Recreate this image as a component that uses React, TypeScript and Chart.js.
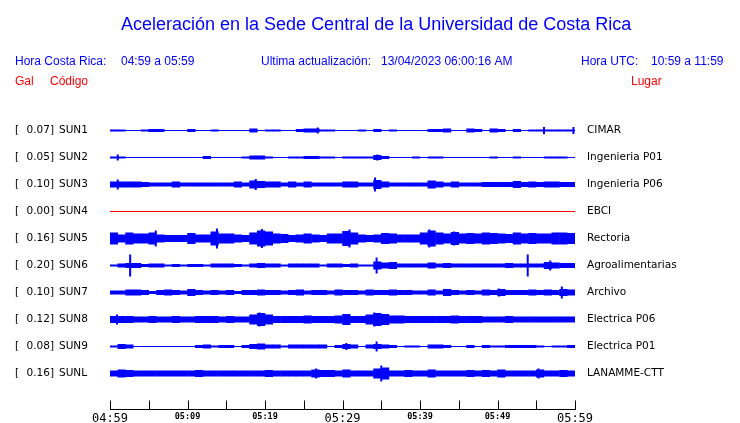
import React, { useEffect, useRef } from 'react';
import { Chart, registerables } from 'chart.js';

Chart.register(...registerables);

// ---------- text ----------
const TITLE = 'Aceleración en la Sede Central de la Universidad de Costa Rica';
const HEADER_BLUE = [
  { text: 'Hora Costa Rica:', x: 15 },
  { text: '04:59 a 05:59', x: 121 },
  { text: 'Ultima actualización:', x: 261 },
  { text: '13/04/2023 06:00:16 AM', x: 381 },
  { text: 'Hora UTC:', x: 581 },
  { text: '10:59 a 11:59', x: 651 },
];
const HEADER_RED = [
  { text: 'Gal', x: 15 },
  { text: 'Código', x: 50 },
  { text: 'Lugar', x: 631 },
];

// ---------- stations ----------
const CODES = ['SUN1', 'SUN2', 'SUN3', 'SUN4', 'SUN5', 'SUN6', 'SUN7', 'SUN8', 'SUN9', 'SUNL'];
const PEAK_GAL = ['0.07', '0.05', '0.10', '0.00', '0.16', '0.20', '0.10', '0.12', '0.08', '0.16'];
const PLACES = ['CIMAR', 'Ingenieria P01', 'Ingenieria P06', 'EBCI', 'Rectoria', 'Agroalimentarias', 'Archivo', 'Electrica P06', 'Electrica P01', 'LANAMME-CTT'];
const TRACE_COLORS = ['#0000ff', '#0000ff', '#0000ff', '#ff0000', '#0000ff', '#0000ff', '#0000ff', '#0000ff', '#0000ff', '#0000ff'];

// ---------- time axis (minutes after 04:59) ----------
const TICK_MINUTES = [0, 5, 10, 15, 20, 25, 30, 35, 40, 45, 50, 55, 60];
const TICK_LABELS = ['04:59', '', '05:09', '', '05:19', '', '05:29', '', '05:39', '', '05:49', '', '05:59'];
const MAJOR_LABELS = ['04:59', '05:29', '05:59'];

// ---------- amplitude envelopes, one value per minute (half-width) ----------
const ENV_SUN1 = [1, 1, 0.5, 0.5, 1, 1.5, 1.5, 0.5, 0.5, 0.5, 1.5, 0.5, 0.5, 1, 0.5, 0.5, 0.5, 0.5, 2, 0.5, 1, 1, 0.5, 0.5, 1.5, 2, 2, 1, 1, 0.5, 0.5, 0.5, 1, 0.5, 1.5, 0.5, 1, 0.5, 0.5, 0.5, 0.5, 1.5, 1.5, 2, 0.5, 0.5, 2, 1.5, 0.5, 2, 1.5, 0.5, 1.5, 0.5, 1, 1, 1, 1, 1, 1];
const ENV_SUN2 = [1, 1, 0.5, 0.5, 0.5, 0.5, 0.5, 0.5, 0.5, 0.5, 0.5, 0.5, 1.5, 0.5, 0.5, 0.5, 0.5, 1, 2, 2, 1, 0.5, 0.5, 1, 1, 1.5, 1.5, 1, 1, 0.5, 1, 1, 1, 1, 2.5, 1.5, 0.5, 0.5, 0.5, 1, 0.5, 1, 1, 0.5, 0.5, 0.5, 0.5, 0.5, 0.5, 1, 0.5, 0.5, 1, 0.5, 0.5, 0.5, 1, 1, 1, 0.5];
const ENV_SUN3 = [3, 3, 3, 3, 2.5, 2, 2, 2, 3, 2, 2, 2, 2, 2, 2, 2, 3, 2, 4, 3.5, 3, 3, 2, 3, 2, 3, 2, 2, 2, 2, 3, 3, 2, 2, 4.5, 3, 2, 2, 2, 2, 2, 4, 3, 2, 3, 2, 2, 2, 2.5, 2.5, 2.5, 2.5, 3.5, 2.5, 3, 2.5, 3, 3, 2.5, 2.5];
const ENV_SUN4 = [0, 0, 0, 0, 0, 0, 0, 0, 0, 0, 0, 0, 0, 0, 0, 0, 0, 0, 0, 0, 0, 0, 0, 0, 0, 0, 0, 0, 0, 0, 0, 0, 0, 0, 0, 0, 0, 0, 0, 0, 0, 0, 0, 0, 0, 0, 0, 0, 0, 0, 0, 0, 0, 0, 0, 0, 0, 0, 0, 0];
const ENV_SUN5 = [6, 4, 6, 5, 5, 6, 4, 3.5, 3.5, 3.5, 5.5, 4, 4, 7, 5, 5, 4, 3.5, 6, 8, 7, 5, 4.5, 3.5, 4, 5, 4, 3.5, 5, 5, 7.5, 6, 4, 3.5, 4, 5.5, 5, 4, 4, 4, 6, 8, 6, 5, 6.5, 5, 5.5, 5, 6, 5.5, 5, 4.5, 6, 5, 5.5, 5, 5, 6, 6, 5.5];
const ENV_SUN6 = [1, 2, 2.5, 2.5, 1.5, 2, 2, 1, 1.5, 1, 1.5, 1.5, 1, 2, 2, 2, 1.5, 1, 2, 2.5, 2, 2, 1, 2, 2, 2, 2, 1, 2, 2, 1.5, 2, 1, 1, 4, 3, 3.5, 2, 2, 2, 2, 3, 2, 2.5, 2, 2, 2, 2, 2, 2, 2, 2.5, 2, 2, 2, 2, 3.5, 3, 2.5, 2.5];
const ENV_SUN7 = [2, 2, 3, 3, 2.5, 1.5, 2.5, 3, 2.5, 2, 3.5, 2.5, 2, 2.5, 2, 2.5, 1.5, 2.5, 2.5, 3, 2.5, 2.5, 2, 2.5, 3, 2, 2.5, 2.5, 2, 3, 2.5, 2.5, 2, 3, 2.5, 2.5, 3, 2.5, 2.5, 2, 2, 3, 2, 3.5, 2.5, 2, 2.5, 2, 3, 2.5, 3.5, 2.5, 2.5, 2.5, 3, 2.5, 3, 2.5, 3.5, 3];
const ENV_SUN8 = [3.5, 3.5, 3.5, 3, 3, 3.5, 3, 3, 3.5, 3, 3, 3.5, 3.5, 3.5, 3, 3.5, 3, 3, 5, 6.5, 5, 3.5, 3.5, 3.5, 3.5, 4, 3.5, 3.5, 3.5, 4, 5.5, 3.5, 3.5, 5, 6.5, 5.5, 4, 4, 3.5, 3.5, 3.5, 3.5, 3.5, 3.5, 4, 3.5, 3.5, 3.5, 3, 3, 3, 3.5, 3, 3, 3, 3, 3, 3, 3, 3];
const ENV_SUN9 = [1, 2.5, 2, 0.5, 0.5, 0.5, 0.5, 0.5, 0.5, 0.5, 0.5, 1.5, 2, 1, 1.5, 1.5, 0.5, 1.5, 2.5, 3, 2, 2, 1, 2, 2, 2, 2, 2, 0.5, 1.5, 2.5, 2, 0.5, 2, 2.5, 2, 1.5, 0.5, 1, 1, 0.5, 2, 2, 1.5, 0.5, 0.5, 1.5, 0.5, 1.5, 1, 1, 1.5, 1.5, 1.5, 1.5, 1, 0.5, 1, 1, 1.5];
const ENV_SUNL = [3, 4, 3.5, 3, 3, 3, 3, 3, 3, 3, 3, 3.5, 3, 3, 3, 3, 3, 3, 3, 3, 3.5, 3, 3, 3, 3, 3, 4, 3.5, 3.5, 3, 4, 3, 3, 3, 5, 6, 3, 3, 3.5, 3, 3, 4, 3, 3, 3, 3, 3.5, 3, 3.5, 3, 4, 3, 3, 3, 3, 4, 3, 3, 3.5, 3];
const ENVELOPES = [ENV_SUN1, ENV_SUN2, ENV_SUN3, ENV_SUN4, ENV_SUN5, ENV_SUN6, ENV_SUN7, ENV_SUN8, ENV_SUN9, ENV_SUNL];

// ---------- isolated peaks: [minute, half-amplitude] ----------
const PEAKS_SUN1 = [[26.8, 3], [56.0, 3.5], [59.8, 3.5]];
const PEAKS_SUN2 = [[1.0, 3], [34.5, 3]];
const PEAKS_SUN3 = [[1.0, 5], [18.8, 5.5], [34.2, 7]];
const PEAKS_SUN4: number[][] = [];
const PEAKS_SUN5 = [[5.9, 8], [13.8, 10], [19.6, 9.5], [30.9, 9], [41.2, 9], [44.4, 7]];
const PEAKS_SUN6 = [[2.6, 11], [34.4, 8], [53.9, 11], [56.8, 5]];
const PEAKS_SUN7 = [[50.2, 4], [58.3, 6]];
const PEAKS_SUN8 = [[0.9, 5], [19.3, 7], [34.1, 7]];
const PEAKS_SUN9 = [[30.5, 3.5], [34.4, 5]];
const PEAKS_SUNL = [[26.6, 5], [35.0, 8], [55.3, 5]];
const PEAKS = [PEAKS_SUN1, PEAKS_SUN2, PEAKS_SUN3, PEAKS_SUN4, PEAKS_SUN5, PEAKS_SUN6, PEAKS_SUN7, PEAKS_SUN8, PEAKS_SUN9, PEAKS_SUNL];

const TRACE_GAP = 27;
const Y_MIN = -27.5;
const Y_MAX = 278.5;
const X_MIN = 0;
const X_MAX = 60;

const SANS = '"Liberation Sans", Arial, Helvetica, sans-serif';
const DEJAVU = '"DejaVu Sans", "Bitstream Vera Sans", sans-serif';
const MONO = '"DejaVu Sans Mono", "Liberation Mono", monospace';

const textPlugin = {
  id: 'seismoText',
  afterDraw(chart: any) {
    const { ctx, chartArea } = chart;
    const xs = chart.scales.x;
    const ys = chart.scales.y;
    ctx.save();
    // title
    ctx.fillStyle = '#0000ff';
    ctx.font = `18px ${SANS}`;
    ctx.textAlign = 'left';
    ctx.textBaseline = 'alphabetic';
    ctx.fillText(TITLE, 121, 30);
    // headers
    ctx.font = `12px ${SANS}`;
    HEADER_BLUE.forEach((h) => ctx.fillText(h.text, h.x, 65));
    ctx.fillStyle = '#ff0000';
    HEADER_RED.forEach((h) => ctx.fillText(h.text, h.x, 85));
    // station labels
    ctx.fillStyle = '#000';
    ctx.font = `10.5px ${DEJAVU}`;
    ctx.textBaseline = 'middle';
    CODES.forEach((code, i) => {
      const y = ys.getPixelForValue(i * TRACE_GAP);
      ctx.textAlign = 'left';
      ctx.fillText('[', 15, y);
      ctx.textAlign = 'right';
      ctx.fillText(PEAK_GAL[i] + ']', 54, y);
      ctx.textAlign = 'left';
      ctx.fillText(code, 59, y);
      ctx.fillText(PLACES[i], 587, y);
    });
    // time axis line with upward ticks
    ctx.strokeStyle = '#000';
    ctx.lineWidth = 1;
    const yb = Math.round(chartArea.bottom) + 0.5;
    ctx.beginPath();
    ctx.moveTo(Math.round(xs.getPixelForValue(X_MIN)), yb);
    ctx.lineTo(Math.round(xs.getPixelForValue(X_MAX)) + 1, yb);
    TICK_MINUTES.forEach((m) => {
      const px = Math.round(xs.getPixelForValue(m)) + 0.5;
      ctx.moveTo(px, yb - 9);
      ctx.lineTo(px, yb);
    });
    ctx.stroke();
    ctx.restore();
  },
};

export default function App() {
  const ref = useRef<HTMLCanvasElement>(null);
  useEffect(() => {
    if (!ref.current) return;
    const datasets: any[] = [];
    ENVELOPES.forEach((env, i) => {
      const c = i * TRACE_GAP;
      datasets.push({
        type: 'line',
        data: [{ x: X_MIN, y: c }, { x: X_MAX, y: c }],
        borderColor: TRACE_COLORS[i],
        borderWidth: 1,
        pointRadius: 0,
        xAxisID: 'x',
        yAxisID: 'y',
      });
      datasets.push({
        type: 'bar',
        data: env
          .map((a, k) => ({ x: k + 0.5, y: [c - a, c + a], a }))
          .filter((d) => d.a > 0),
        backgroundColor: TRACE_COLORS[i],
        borderWidth: 0,
        barPercentage: 1.06,
        categoryPercentage: 1,
        inflateAmount: 0,
        grouped: false,
        xAxisID: 'x',
        yAxisID: 'y',
      });
      datasets.push({
        type: 'bar',
        data: PEAKS[i].map(([m, a]) => ({ x: m, y: [c - a, c + a] })),
        backgroundColor: TRACE_COLORS[i],
        borderWidth: 0,
        barThickness: 2,
        inflateAmount: 0,
        grouped: false,
        xAxisID: 'x2',
        yAxisID: 'y',
      });
    });
    const chart = new Chart(ref.current, {
      type: 'bar',
      data: { datasets },
      options: {
        responsive: false,
        animation: false,
        devicePixelRatio: 1,
        layout: { padding: { left: 110, right: 165, top: 103, bottom: -5 } },
        plugins: { legend: { display: false }, tooltip: { enabled: false }, title: { display: false } },
        scales: {
          x: {
            type: 'linear',
            min: X_MIN,
            max: X_MAX,
            offset: false,
            grid: { display: false, drawTicks: false },
            border: { display: false },
            afterBuildTicks: (s: any) => {
              s.ticks = TICK_MINUTES.map((v) => ({ value: v }));
            },
            ticks: {
              autoSkip: false,
              maxRotation: 0,
              minRotation: 0,
              padding: 3.5,
              color: '#000',
              callback: (_v: any, idx: number) => TICK_LABELS[idx],
              font: (ctx: any) =>
                MAJOR_LABELS.includes(TICK_LABELS[ctx.index])
                  ? { family: MONO, size: 12, lineHeight: 1 }
                  : { family: MONO, size: 8.5, weight: 'bold', lineHeight: 1 },
            },
          },
          x2: {
            type: 'linear',
            min: X_MIN,
            max: X_MAX,
            offset: false,
            display: false,
          },
          y: {
            type: 'linear',
            min: Y_MIN,
            max: Y_MAX,
            reverse: true,
            display: false,
          },
        },
      } as any,
      plugins: [textPlugin],
    });
    return () => chart.destroy();
  }, []);
  return (
    <div style={{ position: 'absolute', left: 0, top: 0, width: 740, height: 423, background: '#fff' }}>
      <canvas ref={ref} width={740} height={423} style={{ display: 'block' }} />
    </div>
  );
}
